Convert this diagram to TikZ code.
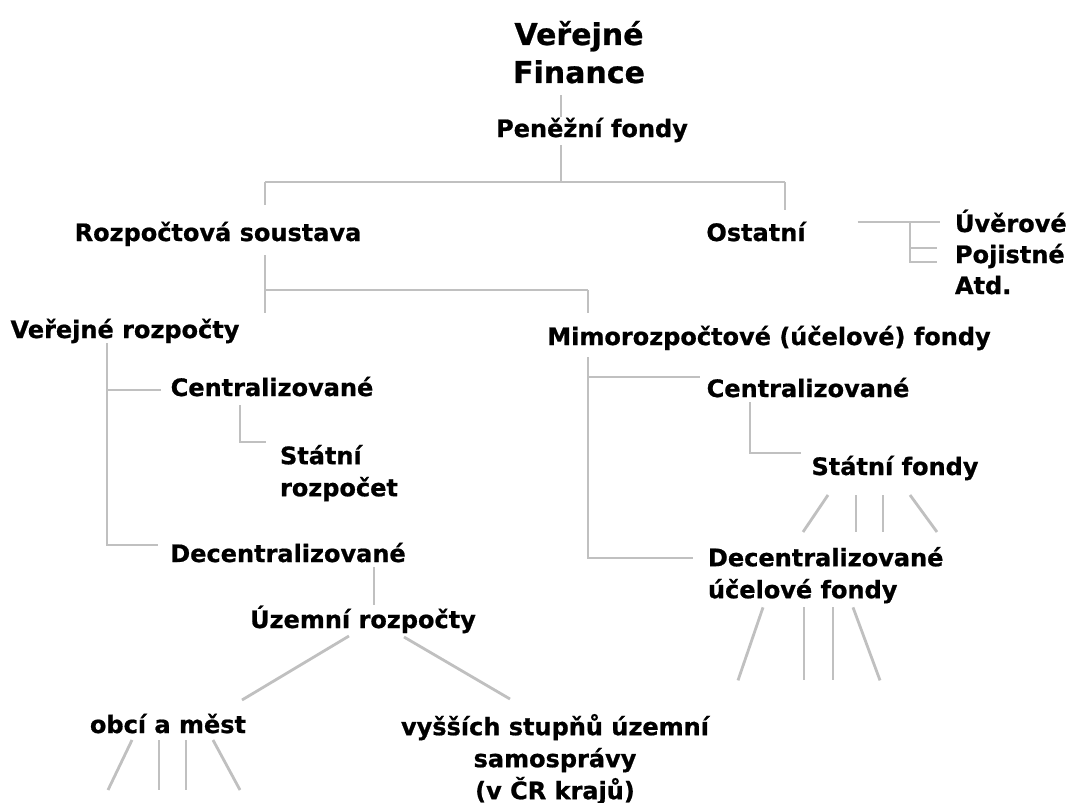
\documentclass[tikz,border=0pt]{standalone}
\usepackage{fontspec}
\setmainfont{DejaVu Sans}[BoldFeatures={FakeBold=0.8}]
\usepackage{xcolor}
\usepackage{tikz}
\usetikzlibrary{positioning, calc}

\definecolor{linegray}{RGB}{192,192,192}
\tikzset{
    lbl/.style={font=\bfseries\fontsize{24}{32}\selectfont, inner sep=0pt, outer sep=0pt},
    one/.style={lbl, text height=17pt, text depth=5pt},
    link/.style={draw=linegray, line width=2.8pt}
}

\begin{document}
\begin{tikzpicture}[x=1pt, y=-1pt]
    \path[use as bounding box, fill=white] (0,0) rectangle (1068,803);

    % Uzly
    \node[lbl, font=\bfseries\fontsize{30}{38}\selectfont, align=center, anchor=north] (fin) at (579,21) {Veřejné\\Finance};
    \node[one, anchor=base] (pen) at (592,137) {Peněžní fondy};
    \node[one, anchor=base] (rs) at (218,241) {Rozpočtová soustava};
    \node[one, anchor=base] (ost) at (756,241) {Ostatní};
    \node[one, anchor=base west] (uv) at (955,232) {Úvěrové};
    \node[one, anchor=base west] (pj) at (955,263) {Pojistné};
    \node[one, anchor=base west] (atd) at (955,294) {Atd.};
    \node[one, anchor=base] (vr) at (125,338) {Veřejné rozpočty};
    \node[one, anchor=base] (mim) at (769,345) {Mimorozpočtové (účelové) fondy};
    \node[one, anchor=base] (cl) at (272,396) {Centralizované};
    \node[lbl, align=left, anchor=north west] (sr) at (280,445) {Státní\\rozpočet};
    \node[one, anchor=base] (cr) at (808,397) {Centralizované};
    \node[one, anchor=base] (sf) at (895,475) {Státní fondy};
    \node[one, anchor=base] (dl) at (288,562) {Decentralizované};
    \node[lbl, align=left, anchor=north west] (dr) at (708,547) {Decentralizované\\účelové fondy};
    \node[one, anchor=base] (ur) at (363,628) {Územní rozpočty};
    \node[one, anchor=base] (ob) at (168,733) {obcí a měst};
    \node[lbl, align=center, anchor=north] (vy) at (555,714) {vyšších stupňů územní\\samosprávy\\(v ČR krajů)};

    % Uzlove body
    \coordinate (bar1) at (561,182);
    \coordinate (bar1l) at (265,182);
    \coordinate (bar1r) at (785,182);
    \coordinate (bar2l) at (265,290);
    \coordinate (bar2r) at (588,290);
    \coordinate (lsp) at (107,545);
    \coordinate (rsp) at (588,558);
    \coordinate (rbr) at (588,377);
    \coordinate (ce) at (240,442);
    \coordinate (ce2) at (750,453);
    \coordinate (obj) at (910,222);

    % Spoje
    \draw[link, shorten <=12pt, shorten >=3pt] (fin.south -| bar1) -- (pen.north -| bar1);
    \draw[link, shorten <=3pt] (pen.south -| bar1) -- (bar1);
    \draw[link] (bar1l) -- (bar1r);
    \draw[link, shorten >=19pt] (bar1l) -- (rs.north -| bar1l);
    \draw[link, shorten >=14pt] (bar1r) -- (ost.north -| bar1r);

    \draw[link] (ost.east |- obj) ++(52,0) -- (obj) -- (uv.west |- obj) [shorten >=15pt];
    \draw[link] (obj) -- ++(0,40) -- ++(27,0);
    \draw[link] (obj) ++(0,26) -- ++(27,0);

    \draw[link, shorten <=9pt] (rs.south -| bar2l) -- (bar2l);
    \draw[link] (bar2l) -- (bar2r);
    \draw[link, shorten >=8pt] (bar2l) -- (vr.north -| bar2l);
    \draw[link, shorten >=15pt] (bar2r) -- (mim.north -| bar2r);

    \draw[link, shorten >=12pt] (vr.south -| lsp) -- (lsp) -- (dl.north west);
    \draw[link, shorten >=10pt] (cl.west -| lsp) -- (cl.west);
    \draw[link, shorten <=4pt, shorten >=14pt] (cl.south -| ce) -- (ce) -- (ce -| sr.west);

    \draw[link, shorten <=7pt, shorten >=15pt] (mim.south -| rsp) -- (rsp) -- (rsp -| dr.west);
    \draw[link, shorten >=7pt] (rbr) -- (rbr -| cr.west);
    \draw[link, shorten >=11pt] (cr.south -| ce2) -- (ce2) -- (ce2 -| sf.west);

    \draw[link, shorten >=6pt] ([xshift=86pt]dl.south) -- ([xshift=86pt]dl.south |- ur.north);
    \draw[link] ([xshift=-14pt, yshift=-3pt]ur.south) -- ([xshift=74pt, yshift=16pt]ob.north);
    \draw[link] ([xshift=41pt, yshift=-4pt]ur.south) -- ([xshift=-45pt, yshift=15pt]vy.north);

    % Vejire
    \foreach \s/\e in {-67/-25, -39/0, -12/0, 15/27}
        \draw[link] ([xshift=\s pt, yshift=-15pt]sf.south) -- ++(\e,37);
    \foreach \s/\e in {55/-25, 96/0, 125/0, 145/27}
        \draw[link] ([xshift=\s pt, yshift=-4pt]dr.south west) -- ++(\e,73);
    \foreach \s/\e in {-36/-24, -9/0, 18/0, 45/27}
        \draw[link] ([xshift=\s pt, yshift=-2pt]ob.south) -- ++(\e,50);
\end{tikzpicture}
\end{document}
